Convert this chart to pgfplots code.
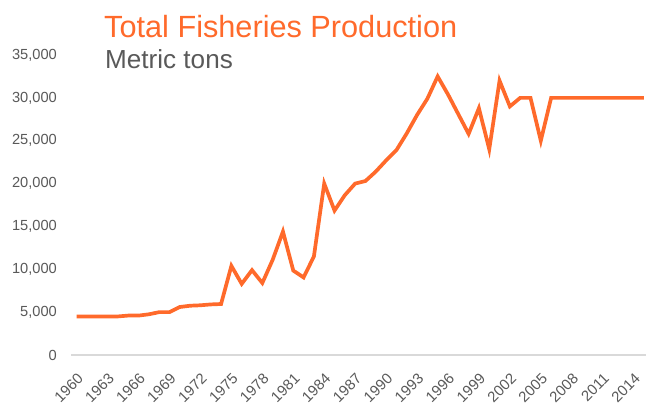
\documentclass[border=0pt]{standalone}
\usepackage{fontspec}
\setmainfont{Liberation Sans}
\usepackage{pgfplots}
\pgfplotsset{compat=1.18}
\definecolor{fishorange}{HTML}{FF6A2B}
\definecolor{labelgray}{HTML}{595959}
\definecolor{basegray}{HTML}{D9D9D9}

\pgfplotstableread{
year tons
1960 4500
1961 4500
1962 4500
1963 4500
1964 4500
1965 4600
1966 4600
1967 4750
1968 5000
1969 5000
1970 5600
1971 5750
1972 5800
1973 5900
1974 5950
1975 10400
1976 8300
1977 9900
1978 8400
1979 11100
1980 14400
1981 9850
1982 9050
1983 11500
1984 20000
1985 16850
1986 18650
1987 20000
1988 20300
1989 21400
1990 22700
1991 23900
1992 25850
1993 28000
1994 29900
1995 32500
1996 30400
1997 28100
1998 25800
1999 28800
2000 24000
2001 32000
2002 29000
2003 30000
2004 30000
2005 25000
2006 30000
2007 30000
2008 30000
2009 30000
2010 30000
2011 30000
2012 30000
2013 30000
2014 30000
2015 30000
}\fishdata

\begin{document}
\begin{tikzpicture}[x=1bp,y=1bp]
\path[use as bounding box] (0,0) rectangle (646,405);
\begin{axis}[
  at={(71bp,50bp)}, anchor=origin,
  scale only axis,
  width=575bp, height=300bp,
  xmin=1959.45, xmax=2015.2,
  ymin=0, ymax=35000,
  axis x line*=bottom,
  axis y line*=left,
  x axis line style={draw=basegray, line width=1.5bp},
  y axis line style={draw=none},
  major tick length=0pt,
  xtick={1960,1963,...,2014},
  ytick={0,5000,...,35000},
  scaled y ticks=false,
  xticklabel={\pgfmathprintnumber[1000 sep=]{\tick}},
  yticklabel style={/pgf/number format/1000 sep={,}, font=\fontsize{14.7}{16}\selectfont, text=labelgray, anchor=east, inner sep=0pt},
  yticklabel shift=14bp,
  xticklabel style={font=\fontsize{15}{17}\selectfont, text=labelgray, anchor=north east, rotate=45, inner sep=0pt},
  xticklabel shift=17bp,
  /pgf/number format/assume math mode=true,
  clip=false,
]
\addplot[color=fishorange, line width=3.7bp, line join=miter, no markers] table[x=year, y=tons] {\fishdata};
\end{axis}
\node[anchor=base west, inner sep=0pt, text=fishorange, font=\fontsize{30.8}{34}\selectfont] at (104,368) {Total Fisheries Production};
\node[anchor=base west, inner sep=0pt, text=labelgray, font=\fontsize{26.2}{29}\selectfont] at (105,337) {Metric tons};
\end{tikzpicture}
\end{document}
